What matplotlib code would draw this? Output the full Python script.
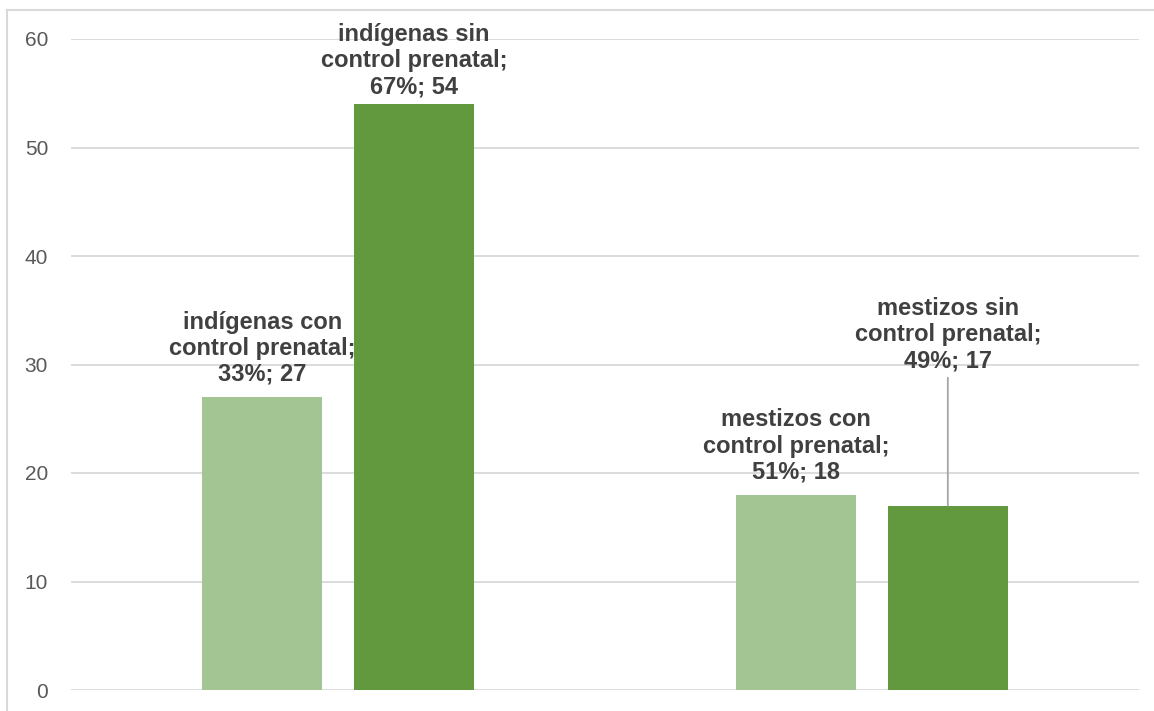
import matplotlib
matplotlib.use("Agg")
import matplotlib.pyplot as plt
from matplotlib.lines import Line2D

plt.rcParams['font.family'] = ['Liberation Sans', 'DejaVu Sans']

# Data
groups = ["indígenas", "mestizos"]
series_names = ["con control prenatal", "sin control prenatal"]
counts_con = [27, 18]
counts_sin = [54, 17]
pct_con = [33, 51]
pct_sin = [67, 49]
y_ticks = [0, 10, 20, 30, 40, 50, 60]

color_con = "#A3C493"
color_sin = "#62993E"
text_color = "#404040"
grid_color = "#D9D9D9"

W, H = 1154, 711
fig = plt.figure(figsize=(W / 100, H / 100), dpi=100)
ax = fig.add_axes([71 / W, (H - 690) / H, (1139 - 71) / W, (690 - 39) / H])

bar_w = 0.225
offset = 0.142
x = list(range(len(groups)))

bars_con = ax.bar([i - offset for i in x], counts_con, width=bar_w, color=color_con, zorder=3)
bars_sin = ax.bar([i + offset for i in x], counts_sin, width=bar_w, color=color_sin, zorder=3)

ax.set_xlim(-0.5, len(groups) - 0.5)
ax.set_ylim(0, 60)
ax.set_yticks(y_ticks)
ax.set_xticks([])
ax.tick_params(axis='y', length=0, pad=16.5, labelsize=15, labelcolor="#595959")
for s in ax.spines.values():
    s.set_visible(False)
ax.yaxis.grid(True, color=grid_color, linewidth=1.3, zorder=0)
ax.set_axisbelow(True)

label_kw = dict(ha='center', va='bottom', fontsize=17, fontweight='bold',
                color=text_color, linespacing=1.17, textcoords='offset points',
                annotation_clip=False)


def make_label(group, series, pct, val):
    first, rest = series.split(' ', 1)
    return f"{group} {first}\n{rest};\n{pct}%; {val}"


for i, b in enumerate(bars_con):
    cx = b.get_x() + b.get_width() / 2
    ax.annotate(make_label(groups[i], series_names[0], pct_con[i], counts_con[i]),
                xy=(cx, counts_con[i]), xytext=(0, 8), **label_kw)

for i, b in enumerate(bars_sin):
    cx = b.get_x() + b.get_width() / 2
    if i == 1:
        # label lifted above the bar with a leader line
        ax.annotate(make_label(groups[i], series_names[1], pct_sin[i], counts_sin[i]),
                    xy=(cx, counts_sin[i]), xytext=(0, 96),
                    arrowprops=dict(arrowstyle='-', color="#A6A6A6", lw=1.3,
                                    shrinkA=2, shrinkB=0),
                    **label_kw)
    else:
        # kept close to the bar so it stays inside the chart area
        ax.annotate(make_label(groups[i], series_names[1], pct_sin[i], counts_sin[i]),
                    xy=(cx, counts_sin[i]), xytext=(0, 4), **label_kw)

# Chart area border (top and left edges)
fig.add_artist(Line2D([7 / W, 1.0], [1 - 10 / H, 1 - 10 / H], color=grid_color,
                      linewidth=1.5, transform=fig.transFigure))
fig.add_artist(Line2D([7 / W, 7 / W], [0.0, 1 - 10 / H], color=grid_color,
                      linewidth=1.5, transform=fig.transFigure))

fig.savefig("out.png", dpi=100, facecolor="white")
